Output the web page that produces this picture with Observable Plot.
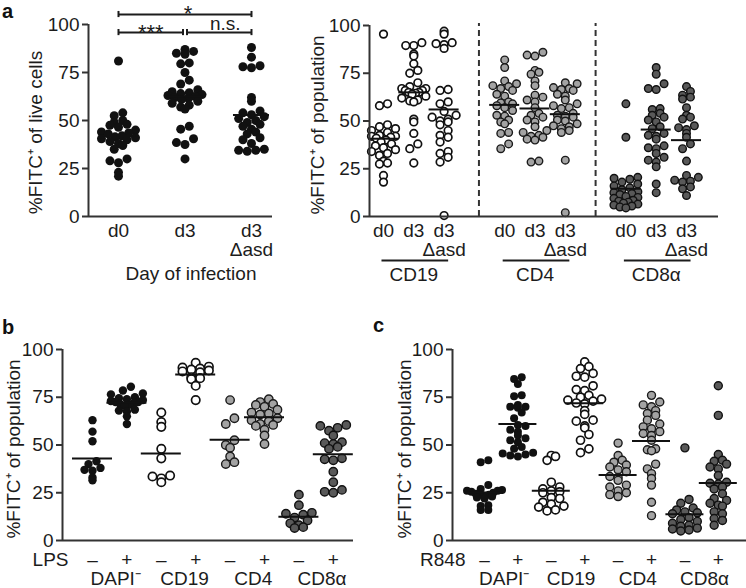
<!DOCTYPE html>
<html><head><meta charset="utf-8">
<script src="https://cdn.jsdelivr.net/npm/d3@7"></script>
<script src="https://cdn.jsdelivr.net/npm/@observablehq/plot@0.6"></script>
<style>
body{margin:0;background:#fff;font-family:"Liberation Sans",Arial,Helvetica,sans-serif;}
#wrap{position:relative;width:746px;height:588px;overflow:hidden;background:#fff;}
.panel{position:absolute;}
.letter{position:absolute;font-weight:bold;font-size:20px;line-height:normal;color:#111;}
</style></head><body>
<div id="wrap">
  <div id="pA1" class="panel" style="left:0;top:0;width:285px;height:290px"></div>
  <div id="pA2" class="panel" style="left:290px;top:0;width:456px;height:290px"></div>
  <div id="pB" class="panel" style="left:0;top:320px;width:370px;height:268px"></div>
  <div id="pC" class="panel" style="left:370px;top:320px;width:376px;height:268px"></div>
  <div class="letter" style="left:2px;top:0px">a</div>
  <div class="letter" style="left:2px;top:316px">b</div>
  <div class="letter" style="left:373px;top:314px">c</div>
</div>
<script>
// ---------- DATA ----------
// Panel a (left): %FITC+ of live cells by day of infection
const liveGroups = ["d0", "d3", "d3\nΔasd"];
const live_d0 = [81, 54, 52.5, 50, 49, 48, 47.5, 46.5, 45, 44, 43.5, 43, 42, 41.5, 41, 40.5, 40, 39, 38, 37, 35, 30, 29, 28, 23, 21];
const live_d3 = [87, 86, 85, 84.5, 80, 79.5, 75, 71, 69, 66, 65, 64.5, 64, 63.5, 63, 62.5, 62, 61.5, 61, 60, 59, 58, 57, 56, 47, 45.5, 40.5, 38.5, 37.5, 30];
const live_d3asd = [88, 83, 78.5, 78, 77.5, 62, 60, 55, 54, 53, 52, 51, 50, 49, 48, 47, 45.5, 44, 43, 41, 40, 38, 35, 34.5, 34.5, 34];
const sigLabels = ["*", "***", "n.s."];

// Panel a (right): %FITC+ of population
const popCellTypes = ["CD19", "CD4", "CD8α"];
const pop_CD19_d0 = [95.5, 59, 58, 48, 47, 46, 45, 44, 42.5, 42, 42, 41.5, 41, 40, 39, 38, 37, 36, 35, 34, 33, 32, 29, 28, 27.5, 21.5, 18];
const pop_CD19_d3 = [91, 89.5, 89.5, 85, 84, 80, 76.5, 75, 70, 68, 67, 67, 66, 66, 65, 65, 64.5, 64, 63, 62, 61, 60.5, 60, 51, 49.5, 43.5, 38, 35.5, 28];
const pop_CD19_d3asd = [97, 95.5, 91, 90.5, 90, 88, 66.5, 66, 60, 59, 55, 53, 52, 51, 50, 49.5, 48, 45, 42.5, 41.5, 39, 34, 33, 31, 28.5, 0.5];
const pop_CD4_d0 = [82, 78, 71, 69.5, 68.5, 68, 67, 66, 64, 63, 60, 59.5, 59, 58, 57, 55.5, 53, 52.5, 50.5, 49.5, 48.5, 44, 43.5, 38, 35.5];
const pop_CD4_d3 = [86, 84.5, 84, 76.5, 75.5, 74.5, 71, 68.5, 63.5, 62.5, 61, 60, 57, 54, 53, 52, 50.5, 49.5, 47, 45, 44, 42.5, 42, 41.5, 40.5, 40, 29, 28.5];
const pop_CD4_d3asd = [70, 69.5, 67.5, 67, 66.5, 66, 64, 63, 61, 59, 58, 57, 56.5, 54, 53, 52.5, 52, 50.5, 50, 48.5, 47.5, 47, 46, 45, 44, 29.5, 2];
const pop_CD8_d0 = [59, 41.5, 20.5, 20, 19.5, 18, 17, 16, 15, 14, 13, 12.5, 12, 11.5, 10.5, 10, 9.5, 8.5, 8, 7.5, 7, 6.5, 6, 5.5, 5, 4.5];
const pop_CD8_d3 = [78, 74.5, 69.5, 67, 66.5, 56.5, 56, 54, 53, 52, 50.5, 49.5, 47, 46, 43.5, 42.5, 42, 40.5, 37, 36, 35.5, 33, 31, 29.5, 28.5, 26, 17, 12.5];
const pop_CD8_d3asd = [68, 65.5, 63.5, 62.5, 61.5, 57, 53, 52, 51, 47.5, 46.5, 45.5, 43.5, 41.5, 38, 35.5, 29, 21.5, 20.5, 19, 18.5, 18, 15.5, 14.5, 11];

// Panels b and c: stimulation −/+
const cellLabels = ["DAPI⁻", "CD19", "CD4", "CD8α"];
const signLabels = ["–", "+"];
const lps_DAPI_neg = [63, 57, 52, 41.5, 40, 38, 37, 36.5, 33, 31.5];
const lps_DAPI_pos = [80.5, 78.5, 77, 76.5, 75, 74.5, 74, 73.5, 73, 72.5, 72.5, 72, 71.5, 71, 70.5, 68.5, 68, 67.5, 65, 61];
const lps_CD19_neg = [67, 62, 59.5, 48, 43, 34, 33.5, 32.5, 30.5];
const lps_CD19_pos = [93, 91, 90.5, 90, 89.5, 89, 88.5, 88, 85.5, 85, 84.5, 81, 73.5];
const lps_CD4_neg = [73.5, 64, 61, 52.5, 50, 48.5, 44, 41, 40];
const lps_CD4_pos = [74, 72.5, 71.5, 71, 70, 68.5, 67, 66.5, 66, 64, 63, 62.5, 61, 60.5, 60, 58, 55, 50.5];
const lps_CD8_neg = [24, 18.5, 14.5, 14, 13.5, 12, 10.5, 9, 8, 7, 6.5];
const lps_CD8_pos = [60.5, 60, 59, 57.5, 55, 51.5, 51, 50.5, 49, 48, 43, 42.5, 42, 36, 30.5, 26.5, 25.5, 25];

const r848_DAPI_neg = [42, 41, 29, 27, 26.5, 26, 26, 25.5, 25, 24.5, 24, 24, 23.5, 23, 22.5, 22, 18.5, 18, 16, 16];
const r848_DAPI_pos = [85.5, 84.5, 82, 76, 75.5, 71, 70, 70, 69.5, 67, 64, 60.5, 60, 58, 57, 55, 53.5, 52.5, 51.5, 49, 48, 46, 45.5, 45, 44.5, 44];
const r848_CD19_neg = [44.5, 44, 42, 30.5, 28, 27, 26, 25.5, 25, 22.5, 22, 20, 19, 18, 17.5, 16, 15.5];
const r848_CD19_pos = [93.5, 91, 90, 87.5, 86, 85.5, 81, 79, 78.5, 76, 75, 74, 73.5, 73, 72, 71.5, 68, 66, 63, 62.5, 60, 59, 55.5, 52.5, 48, 46];
const r848_CD4_neg = [51, 44.5, 42, 41, 39.5, 38.5, 37, 36, 33.5, 33, 31.5, 29, 28, 26, 25, 24, 23];
const r848_CD4_pos = [76, 72.5, 71, 70, 68, 66.5, 65.5, 63, 61, 59.5, 58.5, 57, 56, 55, 52.5, 48, 47.5, 47, 40, 37.5, 35, 32.5, 29, 20, 13];
const r848_CD8_neg = [48.5, 21.5, 19.5, 17, 16, 15, 14.5, 14, 12, 11, 10, 9, 8, 7.5, 6.5, 6, 5.5, 5];
const r848_CD8_pos = [81, 65.5, 45, 42, 41.5, 40, 38.5, 37.5, 34, 30.5, 30, 29.5, 28, 27, 24.5, 22, 21, 19.5, 18.5, 18, 15, 14, 11.5, 10.5, 8];

// ---------- STYLE ----------
const FONT = '"Liberation Sans", Arial, Helvetica, sans-serif';
const INK = "#1c1c1c";
const AX = "#333";
const S = {
  black: {fill: "#111", stroke: "none", sw: 0},
  open: {fill: "#fff", stroke: "#111", sw: 1.7},
  light: {fill: "#a3a3a3", stroke: "#1a1a1a", sw: 1.4},
  dark: {fill: "#595959", stroke: "#111", sw: 1.4}
};

// scatter-dot-plot layout: values binned into rows, spread side by side, compressed to a max width
function rowLayout(values, pxX, pxY, d, maxW) {
  const items = values.map((v, i) => ({v, i}));
  const bins = d3.group(items, o => Math.floor(o.v * pxY / (d * 0.8)));
  const out = new Array(values.length);
  for (const [, arr] of bins) {
    arr.sort((a, b) => a.v - b.v);
    const n = arr.length;
    const step = n > 1 ? Math.min(d * 0.95, maxW / (n - 1)) : 0;
    const slots = d3.range(n).map(k => (k - (n - 1) / 2) * step);
    const orderSlots = slots.slice().sort((a, b) => Math.abs(a) - Math.abs(b) || a - b);
    arr.forEach((o, k) => { out[o.i] = orderSlots[k] / pxX; });
  }
  return out;
}

function makePanel(cfg) {
  const {width, height, mL, mR, mT, mB, xDomain, series, r, hw, maxW, extra = []} = cfg;
  const pxX = (width - mL - mR) / (xDomain[1] - xDomain[0]);
  const pxY = (height - mT - mB) / 100;
  const dotMarks = [], means = [];
  series.forEach(s => {
    const offs = rowLayout(s.values, pxX, pxY, 2 * r + s.style.sw * 0.5, maxW);
    const pts = s.values.map((v, i) => ({x: s.pos + offs[i], v}));
    dotMarks.push(Plot.dot(pts, {x: "x", y: "v", r, fill: s.style.fill, stroke: s.style.stroke, strokeWidth: s.style.sw}));
    means.push({x1: s.pos - hw / pxX, x2: s.pos + hw / pxX, v: d3.mean(s.values)});
  });
  return Plot.plot({
    width, height, marginLeft: mL, marginRight: mR, marginTop: mT, marginBottom: mB,
    x: {domain: xDomain, axis: null},
    y: {domain: [0, 100], axis: null},
    style: {fontFamily: FONT, fontSize: "19px", color: INK, background: "transparent", overflow: "visible"},
    marks: [
      ...dotMarks,
      Plot.ruleY(means, {x1: "x1", x2: "x2", y: "v", stroke: "#111", strokeWidth: 2}),
      Plot.ruleY([0], {stroke: AX, strokeWidth: 2}),
      Plot.ruleX([xDomain[0]], {y1: 0, y2: 100, stroke: AX, strokeWidth: 2}),
      Plot.axisY({ticks: [0, 25, 50, 75, 100], tickSize: 6, tickPadding: 3, fontSize: 19, label: null, stroke: AX, strokeWidth: 2}),
      ...extra
    ]
  });
}

function yTitle(text, dx, dy) {
  return Plot.text([text], {frameAnchor: "left", textAnchor: "middle", rotate: -90, dx, dy, fontSize: 19, lineAnchor: "middle"});
}

// ---------- Panel a (left) ----------
const brackets = [
  {x1: 0, x2: 2, y: 105.2, label: sigLabels[0], ldx: 3, ldy: -1, fs: 22},
  {x1: 0, x2: 0.97, y: 95.8, label: sigLabels[1], ldx: 0, ldy: 0, fs: 22},
  {x1: 1.03, x2: 2, y: 95.8, label: sigLabels[2], ldx: 6, ldy: -8.5, fs: 19}
];
const bracketEnds = brackets.flatMap(b => [{x: b.x1, y: b.y}, {x: b.x2, y: b.y}]);

document.getElementById("pA1").append(makePanel({
  width: 285, height: 290, mL: 88, mR: 13, mT: 24, mB: 74,
  xDomain: [-0.451, 2.316], r: 4.5, hw: 18, maxW: 34,
  series: [
    {pos: 0, values: live_d0, style: S.black},
    {pos: 1, values: live_d3, style: S.black},
    {pos: 2, values: live_d3asd, style: S.black}
  ],
  extra: [
    Plot.text(liveGroups.map((t, i) => ({x: i, t})), {x: "x", text: "t", frameAnchor: "bottom", dy: 7, lineAnchor: "top", fontSize: 19}),
    Plot.text([{x: 1, t: "Day of infection"}], {x: "x", text: "t", frameAnchor: "bottom", dy: 57, dx: 6, lineAnchor: "middle", fontSize: 19}),
    yTitle("%FITC⁺ of live cells", -53, 12),
    Plot.ruleY(brackets, {x1: "x1", x2: "x2", y: "y", stroke: INK, strokeWidth: 2}),
    Plot.ruleX(bracketEnds, {x: "x", y1: d => d.y - 1.6, y2: d => d.y + 1.6, stroke: INK, strokeWidth: 2}),
    ...brackets.map(b => Plot.text([b], {x: d => (d.x1 + d.x2) / 2, y: "y", text: "label", dx: b.ldx, dy: b.ldy, lineAnchor: "middle", fontSize: b.fs}))
  ]
}));

// ---------- Panel a (right) ----------
const popPos = [0, 1, 2, 4, 5, 6, 8, 9, 10];
const popTicks = popPos.map((p, i) => ({x: p, t: liveGroups[i % 3]}));
document.getElementById("pA2").append(makePanel({
  width: 456, height: 290, mL: 79, mR: 28, mT: 25, mB: 74,
  xDomain: [-0.462, 11.056], r: 3.8, hw: 15, maxW: 24,
  series: [
    {pos: 0, values: pop_CD19_d0, style: S.open},
    {pos: 1, values: pop_CD19_d3, style: S.open},
    {pos: 2, values: pop_CD19_d3asd, style: S.open},
    {pos: 4, values: pop_CD4_d0, style: S.light},
    {pos: 5, values: pop_CD4_d3, style: S.light},
    {pos: 6, values: pop_CD4_d3asd, style: S.light},
    {pos: 8, values: pop_CD8_d0, style: S.dark},
    {pos: 9, values: pop_CD8_d3, style: S.dark},
    {pos: 10, values: pop_CD8_d3asd, style: S.dark}
  ],
  extra: [
    Plot.ruleX([3.15, 7.0], {y1: 0, y2: 101, stroke: AX, strokeWidth: 2, strokeDasharray: "6,4"}),
    Plot.text(popTicks, {x: "x", text: "t", frameAnchor: "bottom", dy: 7, lineAnchor: "top", fontSize: 19}),
    Plot.ruleY(popCellTypes.map((t, i) => ({x1: i * 4 - 0.05, x2: i * 4 + 2.15})), {x1: "x1", x2: "x2", y: 0, dy: 44, stroke: INK, strokeWidth: 2}),
    Plot.text(popCellTypes.map((t, i) => ({x: i * 4 + 1, t})), {x: "x", text: "t", frameAnchor: "bottom", dy: 58, lineAnchor: "middle", fontSize: 19}),
    yTitle("%FITC⁺ of population", -52, 4)
  ]
}));

// ---------- Panels b and c ----------
function stimPanel(el, cfg, sets, stimName, nameDx, groupDx, titleDx) {
  const styles = [S.black, S.open, S.light, S.dark];
  const series = [];
  sets.forEach((pair, g) => {
    series.push({pos: 2 * g, values: pair[0], style: styles[g]});
    series.push({pos: 2 * g + 1, values: pair[1], style: styles[g]});
  });
  const signs = series.map((s, i) => ({x: s.pos, t: signLabels[i % 2]}));
  document.getElementById(el).append(makePanel({
    ...cfg, series,
    extra: [
      Plot.text(signs, {x: "x", text: "t", frameAnchor: "bottom", dy: 19, lineAnchor: "middle", fontSize: 19}),
      Plot.text([stimName], {frameAnchor: "bottom-left", textAnchor: "end", dx: nameDx, dy: 19, lineAnchor: "middle", fontSize: 19}),
      Plot.text(cellLabels.map((t, g) => ({x: 2 * g + 0.5, t})), {x: "x", text: "t", frameAnchor: "bottom", dx: groupDx, dy: 38, lineAnchor: "middle", fontSize: 19}),
      yTitle("%FITC⁺ of population", titleDx, 4)
    ]
  }));
}

stimPanel("pB", {width: 370, height: 268, mL: 62, mR: 17, mT: 29, mB: 48, xDomain: [-0.872, 7.587], r: 4.2, hw: 20, maxW: 32},
  [[lps_DAPI_neg, lps_DAPI_pos], [lps_CD19_neg, lps_CD19_pos], [lps_CD4_neg, lps_CD4_pos], [lps_CD8_neg, lps_CD8_pos]],
  "LPS", 6, 6, -49);

stimPanel("pC", {width: 376, height: 268, mL: 82, mR: 0, mT: 29, mB: 48, xDomain: [-0.958, 7.844], r: 4.0, hw: 19, maxW: 35},
  [[r848_DAPI_neg, r848_DAPI_pos], [r848_CD19_neg, r848_CD19_pos], [r848_CD4_neg, r848_CD4_pos], [r848_CD8_neg, r848_CD8_pos]],
  "R848", 13, 3, -48);
</script>
</body></html>
